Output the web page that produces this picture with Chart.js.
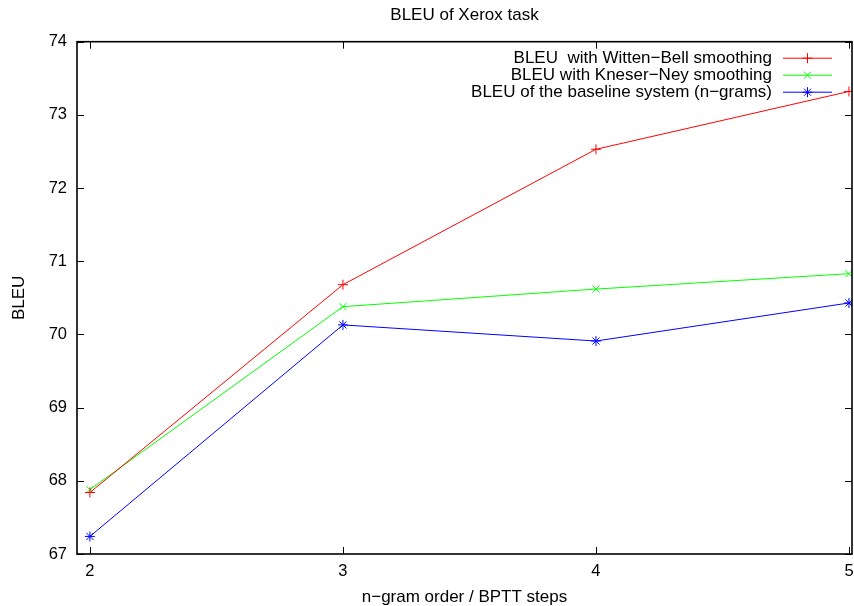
<!DOCTYPE html>
<html><head><meta charset="utf-8">
<script src="https://cdn.jsdelivr.net/npm/chart.js@4.4.1/dist/chart.umd.min.js"></script>
<style>html,body{margin:0;padding:0;background:#fff;overflow:hidden}#wrap{width:854px;height:606px;position:relative}</style>
</head><body><div id="wrap"><canvas id="c"></canvas></div>
<script>
const xValues = [2, 3, 4, 5];
const wittenBell = [67.84, 70.68, 72.53, 73.32];
const kneserNey = [67.88, 70.38, 70.62, 70.83];
const baseline = [67.24, 70.13, 69.91, 70.43];
const xTicks = [2, 3, 4, 5];
const yTicks = [67, 68, 69, 70, 71, 72, 73, 74];
const seriesLabels = ['BLEU  with Witten\u2212Bell smoothing', 'BLEU with Kneser\u2212Ney smoothing', 'BLEU of the baseline system (n\u2212grams)'];
const chartTitle = 'BLEU of Xerox task';
const xTitle = 'n\u2212gram order / BPTT steps';
const yTitle = 'BLEU';

const FONT = 'Liberation Sans, Arial, sans-serif';
const FS = 17;
const TFS = 16.5;

function pts(vals){ return xValues.map((x,i)=>({x:x,y:vals[i]})); }

const series = [
  {label: seriesLabels[0], data: pts(wittenBell), color: '#ff0000', style: 'cross'},
  {label: seriesLabels[1], data: pts(kneserNey), color: '#00ff00', style: 'crossRot'},
  {label: seriesLabels[2], data: pts(baseline), color: '#0000ff', style: 'star'}
];

const framePlugin = {
  id: 'frame',
  afterDatasetsDraw(chart){
    const {ctx, chartArea: a, scales: {x, y}} = chart;
    ctx.save();
    ctx.strokeStyle = '#000';
    ctx.lineWidth = 1;
    const tl = 7;
    ctx.beginPath();
    xTicks.forEach(v => {
      const px = Math.round(x.getPixelForValue(v)) + 0.5;
      ctx.moveTo(px, a.bottom); ctx.lineTo(px, a.bottom - tl);
      ctx.moveTo(px, a.top); ctx.lineTo(px, a.top + tl);
    });
    yTicks.forEach(v => {
      const py = Math.round(y.getPixelForValue(v)) + 0.5;
      ctx.moveTo(a.left, py); ctx.lineTo(a.left + tl, py);
      ctx.moveTo(a.right, py); ctx.lineTo(a.right - tl, py);
    });
    ctx.stroke();
    ctx.lineWidth = 1.6;
    ctx.strokeRect(a.left, a.top, a.right - a.left, a.bottom - a.top);
    // title centred over the plot area
    ctx.font = FS + 'px ' + FONT;
    ctx.fillStyle = '#000';
    ctx.textAlign = 'center';
    ctx.textBaseline = 'middle';
    ctx.fillText(chartTitle, (a.left + a.right) / 2, 15.5);
    // legend
    ctx.textAlign = 'right';
    chart.data.datasets.forEach((ds, i) => {
      const ry = a.top + 16.5 + i * 17;
      ctx.fillStyle = '#000';
      ctx.fillText(ds.label, a.right - 80, ry);
      ctx.strokeStyle = ds.borderColor;
      ctx.lineWidth = 1;
      ctx.beginPath();
      ctx.moveTo(a.right - 69, ry); ctx.lineTo(a.right - 20, ry);
      ctx.stroke();
      Chart.helpers.drawPoint(ctx, {pointStyle: ds.pointStyle, radius: 5, rotation: 0, borderWidth: 1}, a.right - 44.5, ry);
    });
    ctx.restore();
  }
};

new Chart(document.getElementById('c'), {
  type: 'line',
  data: {
    datasets: series.map(s => ({
      label: s.label, data: s.data,
      borderColor: s.color, backgroundColor: s.color,
      borderWidth: 1, pointStyle: s.style, pointRadius: 5,
      pointBorderWidth: 1, pointBorderColor: s.color, tension: 0, fill: false
    }))
  },
  options: {
    responsive: true, maintainAspectRatio: false, animation: false,
    layout: {autoPadding: false, padding: {left: 0, right: 2, top: 41.7, bottom: 0}},
    plugins: {
      legend: {display: false},
      tooltip: {enabled: false},
      title: {display: false}
    },
    scales: {
      x: {
        type: 'linear', min: 1.949, max: 5.012,
        afterBuildTicks: s => { s.ticks = xTicks.map(v => ({value: v})); },
        afterFit: s => { s.height = 52; s.paddingLeft = 0; s.paddingRight = 0; },
        grid: {display: false, drawTicks: false},
        border: {display: false},
        ticks: {color: '#000', padding: 8, font: {family: FONT, size: TFS}, maxRotation: 0, autoSkip: false},
        title: {display: true, text: xTitle, color: '#000', font: {family: FONT, size: FS}, padding: {top: 0, bottom: -2}}
      },
      y: {
        min: 67, max: 74,
        afterBuildTicks: s => { s.ticks = yTicks.map(v => ({value: v})); },
        afterFit: s => { s.width = 77; s.paddingTop = 0; s.paddingBottom = 0; },
        grid: {display: false, drawTicks: false},
        border: {display: false},
        ticks: {color: '#000', padding: 10, font: {family: FONT, size: TFS}},
        title: {display: true, text: yTitle, color: '#000', font: {family: FONT, size: FS}, padding: {top: 9, bottom: 0}}
      }
    }
  },
  plugins: [framePlugin]
});
</script>
</body></html>
